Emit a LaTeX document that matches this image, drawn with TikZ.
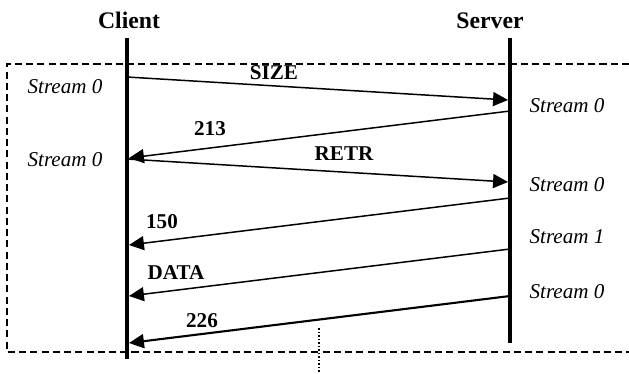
\documentclass[tikz,border=0pt]{standalone}
\usepackage{fontspec}
\setmainfont{Liberation Serif}
\usetikzlibrary{arrows.meta}

\begin{document}
\begin{tikzpicture}[x=0.02cm, y=-0.02cm,
  every node/.style={inner sep=0pt, anchor=base},
  head/.style={font=\fontsize{13.5}{15}\selectfont\bfseries},
  cmd/.style={font=\fontsize{12}{14}\selectfont\bfseries},
  strm/.style={font=\fontsize{12}{14}\selectfont\itshape},
  life/.style={line width=2.3pt},
  msg/.style={line width=0.85pt, -{Triangle[length=8.5pt,width=8pt]}},
  box/.style={line width=0.75pt, dash pattern=on 4pt off 2.4pt}]
  \useasboundingbox (0,0) rectangle (629,373);

  % session box
  \draw[box] (629,64) -- (7,64) -- (7,352) -- (629,352);
  \draw[line width=0.75pt, dash pattern=on 1pt off 1pt] (319,328) -- (319,373);

  % hosts
  \node[head] (client) at (129,28) {Client};
  \node[head] (server) at (490,28) {Server};
  \coordinate (cTop) at (127,38);
  \coordinate (cBot) at (127,359);
  \coordinate (sTop) at (510,38);
  \coordinate (sBot) at (510,343);
  \draw[life] (cTop) -- (cBot);
  \draw[life] (sTop) -- (sBot);

  % message ends
  \coordinate (c1) at (127,77);  \coordinate (s1) at (508,100);
  \coordinate (s2) at (510,111); \coordinate (c2) at (129,158);
  \coordinate (c3) at (127,159); \coordinate (s3) at (508,182);
  \coordinate (s4) at (510,198); \coordinate (c4) at (129,245);
  \coordinate (s5) at (510,249); \coordinate (c5) at (129,296);
  \coordinate (s6) at (510,296); \coordinate (c6) at (129,343);

  % messages
  \draw[msg] (c1) -- (s1);
  \draw[msg] (s2) -- (c2);
  \draw[msg] (c3) -- (s3);
  \draw[msg] (s4) -- (c4);
  \draw[msg] (s5) -- (c5);
  \draw[msg, line width=1.2pt] (s6) -- (c6);

  \node[cmd] (size) at (274,79) {SIZE};
  \node[cmd] (r213) at (210,135) {213};
  \node[cmd] (retr) at (344,160) {RETR};
  \node[cmd] (r150) at (162,228) {150};
  \node[cmd] (data) at (176,279) {DATA};
  \node[cmd] (r226) at (202,327) {226};

  % streams
  \node[strm] (cs1) at (65,93) {Stream 0};
  \node[strm] (cs2) at (65,166) {Stream 0};
  \node[strm] (ss1) at (567,112) {Stream 0};
  \node[strm] (ss2) at (567,191) {Stream 0};
  \node[strm] (ss3) at (567,243) {Stream 1};
  \node[strm] (ss4) at (567,298) {Stream 0};
\end{tikzpicture}
\end{document}
